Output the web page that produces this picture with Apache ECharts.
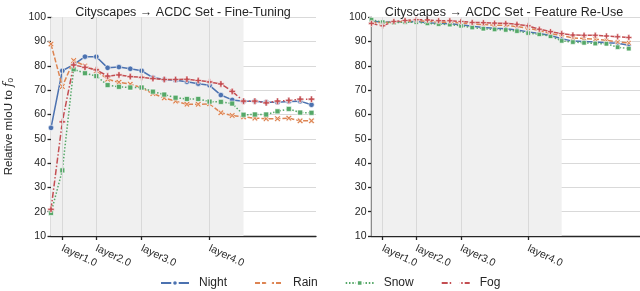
<!DOCTYPE html>
<html><head><meta charset="utf-8">
<script src="https://cdn.jsdelivr.net/npm/echarts@6/dist/echarts.min.js"></script>
<style>html,body{margin:0;padding:0;background:#fff}#c{width:640px;height:291px}</style>
</head><body><div id="c"></div>
<script>
// ---- data ----
const steps = [0,1,2,3,4,5,6,7,8,9,10,11,12,13,14,15,16,17,18,19,20,21,22,23];
const layerTicks = [1, 4, 8, 14];
const layerLabels = ['layer1.0', 'layer2.0', 'layer3.0', 'layer4.0'];
const backboneEnd = 17;
const seriesNames = ['Night', 'Rain', 'Snow', 'Fog'];
const titles = ['Cityscapes \u2192 ACDC Set - Fine-Tuning', 'Cityscapes \u2192 ACDC Set - Feature Re-Use'];

const ftNight = [54.5, 78, 80.5, 83.8, 83.8, 79.2, 79.5, 78.8, 78, 75.2, 74.4, 74.1, 73.5, 72.7, 72, 68, 66, 65.5, 65.5, 65, 65, 65.3, 65.5, 64];
const ftRain  = [89, 71.5, 82.2, 80, 78, 74.5, 73.3, 72.5, 71, 68.6, 66.8, 65.5, 64.2, 64.2, 64.4, 60.7, 59.6, 59, 58.5, 58.3, 58.3, 58.5, 57.4, 57.4];
const ftSnow  = [19.5, 37, 78.6, 77, 75.8, 72.1, 71.4, 71.1, 71.1, 69.4, 68.2, 66.9, 66.4, 66.4, 65.3, 65.2, 64.5, 59.9, 60, 60, 61.3, 62.3, 60.8, 60.7];
const ftFog   = [21, 57, 80.4, 79.4, 78.4, 75.8, 76.3, 75.6, 75.3, 74.8, 74.4, 74.4, 74.5, 74, 73.4, 72.6, 69.5, 65.5, 65.5, 64.8, 65.5, 65.8, 66.3, 66.3];

const ruNight = [98.5, 98, 98.2, 98.2, 98.3, 97.8, 97.5, 97.3, 96.9, 96.3, 95.8, 95.5, 95.3, 94.8, 94, 93.3, 92.5, 91.2, 90.2, 90, 89.8, 89.5, 89.3, 88.5];
const ruRain  = [98, 97.8, 98, 98.3, 98.5, 98.5, 98, 98, 97.7, 97.3, 97, 96.8, 96.7, 96.2, 95.5, 94.5, 93.3, 92.5, 91.5, 91.3, 91, 90.5, 89.8, 89.5];
const ruSnow  = [99, 98, 97.8, 98, 98, 97.5, 97.2, 97, 96.5, 95.8, 95.3, 95, 94.8, 94.3, 93.5, 93, 92.2, 90.3, 89.8, 89.5, 89.2, 89.1, 87.7, 87.1];
const ruFog   = [97.5, 96.5, 98.3, 98.7, 99, 98.9, 98.6, 98.6, 98.3, 97.9, 97.8, 97.6, 97.5, 97.1, 96.5, 95.1, 94.1, 93.3, 92.7, 92.6, 92.6, 92.3, 92, 91.7];

// ---- styles ----
const FONT = 'Liberation Sans';
const TXT = '#262626';
const GRID_C = '#d9d9d9';
const colors = ['#4c72b0', '#dd8452', '#55a868', '#c44e52'];
const dashes = ['solid', [5, 2], [1.5, 1.8], [6, 2, 1.5, 2]];
const symbols = [
  'circle',
  'path://M2,0 L5,3 L8,0 L10,2 L7,5 L10,8 L8,10 L5,7 L2,10 L0,8 L3,5 L0,2 Z',
  'rect',
  'path://M3.3,0 H6.7 V3.3 H10 V6.7 H6.7 V10 H3.3 V6.7 H0 V3.3 H3.3 Z'
];
const symSizes = [[5.5, 6, 5, 6.5], [4.5, 5, 4.5, 6]];

const grids = [
  {left: 51, top: 17.3, width: 265, height: 218.7},
  {left: 371.5, top: 17.3, width: 270, height: 218.7}
];
const xMax = [23.4, 24];

const xAxes = grids.map((g, i) => ({
  type: 'value', gridIndex: i, min: 0, max: xMax[i],
  axisLine: {show: true, lineStyle: {color: TXT, width: 1.3}},
  axisTick: {show: true, customValues: layerTicks, length: 4, lineStyle: {color: TXT, width: 1.3}},
  axisLabel: {show: true, customValues: layerTicks, rotate: -25, align: 'left', margin: 12,
    fontFamily: FONT, fontSize: 10.5, color: TXT,
    formatter: v => layerLabels[layerTicks.indexOf(v)] || ''},
  splitLine: {show: false}
}));

const yAxes = grids.map((g, i) => ({
  type: 'value', gridIndex: i, min: 10, max: 100, interval: 10,
  axisLine: {show: true, lineStyle: {color: TXT, width: 1.3}},
  axisTick: {show: true, length: 3.5, lineStyle: {color: TXT, width: 1.3}},
  axisLabel: {fontFamily: FONT, fontSize: 10.5, color: TXT, margin: 5},
  splitLine: {show: true, lineStyle: {color: GRID_C, width: 1}},
  name: i === 0 ? '{a|Relative mIoU to }{i|f}{s|0}' : '',
  nameLocation: 'middle', nameRotate: 90, nameGap: 36,
  nameTextStyle: {color: TXT, fontFamily: FONT, fontSize: 11.5,
    rich: {a: {fontFamily: FONT, fontSize: 11.5, color: TXT},
           i: {fontFamily: 'DejaVu Serif', fontStyle: 'italic', fontSize: 12, color: TXT},
           s: {fontFamily: FONT, fontSize: 8, color: TXT, padding: [4, 0, 0, 0]}}}
}));

const allData = [[ftNight, ftRain, ftSnow, ftFog], [ruNight, ruRain, ruSnow, ruFog]];
const series = [];
grids.forEach((g, gi) => {
  series.push({
    type: 'line', xAxisIndex: gi, yAxisIndex: gi, data: [], z: -1, silent: true,
    markArea: {silent: true, itemStyle: {color: '#f0f0f0'}, data: [[{xAxis: 0}, {xAxis: backboneEnd}]]},
    markLine: {silent: true, symbol: ['none', 'none'], label: {show: false},
      lineStyle: {color: GRID_C, width: 1, type: 'solid'},
      data: layerTicks.map(v => ({xAxis: v}))}
  });
  allData[gi].forEach((vals, si) => {
    series.push({
      name: seriesNames[si], type: 'line', xAxisIndex: gi, yAxisIndex: gi,
      data: steps.map((s, k) => [s, vals[k]]),
      symbol: symbols[si], symbolSize: symSizes[gi][si], showSymbol: true,
      color: colors[si],
      lineStyle: {color: colors[si], width: 1.5, type: dashes[si]},
      itemStyle: {color: colors[si], borderColor: '#ffffff', borderWidth: 0.6},
      emphasis: {disabled: true}, animation: false
    });
  });
});

const option = {
  animation: false,
  backgroundColor: '#ffffff',
  title: titles.map((t, i) => ({
    text: t, left: i === 0 ? 178 : 499, top: 1, textAlign: 'center',
    textStyle: {fontFamily: FONT, fontSize: 12.5, fontWeight: 'normal', color: TXT}
  })),
  legend: {
    data: seriesNames, left: 155, top: 272, itemWidth: 28, itemHeight: 7, itemGap: 27,
    textStyle: {fontFamily: FONT, fontSize: 12, color: TXT, padding: [0, 0, 0, 5]}
  },
  grid: grids,
  xAxis: xAxes,
  yAxis: yAxes,
  series: series
};
echarts.init(document.getElementById('c'), null, {renderer: 'canvas'}).setOption(option);
</script></body></html>
